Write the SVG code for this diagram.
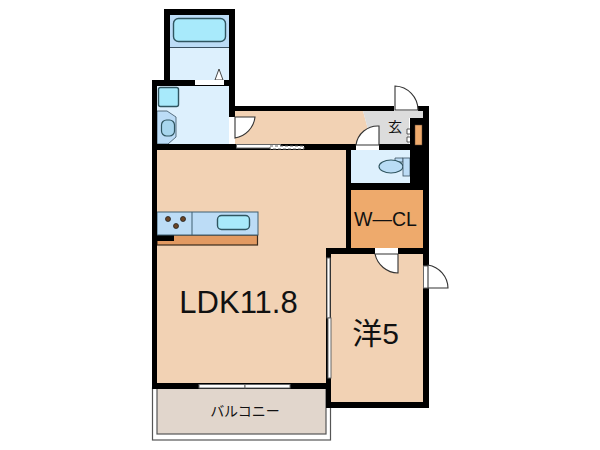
<svg xmlns="http://www.w3.org/2000/svg" width="600" height="450" viewBox="0 0 600 450">
<style>
.wall{fill:#000}
.floor{fill:#f2d2b4}
.wet{fill:#ddf0fd}
.mid{fill:#bcdcf6}
.aqua{fill:#a8eafb;stroke:#2f5560;stroke-width:1.4}
.closet{fill:#eeaa6c}
.gap{fill:#fff}
.door{fill:#fff;stroke:#333;stroke-width:1.1}
.sl{fill:#fff;stroke:#666;stroke-width:1}
.t{font-family:"Liberation Sans","Noto Sans CJK JP",sans-serif;fill:#111}
</style>
<rect width="600" height="450" fill="#fff"/>
<g id="balcony">
<rect x="152.500" y="388" width="178" height="52" fill="#fff" stroke="#555" stroke-width="1.200"/>
<rect x="157" y="388" width="169" height="46" fill="#e1d6cc" stroke="#555" stroke-width="1.200"/>
<text class="t" x="245" y="416" font-size="14" text-anchor="middle">バルコニー</text>
</g>
<g id="ldk">
<path class="floor" d="M157 150H346V254H326V383H157Z"/>
<text class="t" x="238.500" y="313" font-size="31" text-anchor="middle">LDK11.8</text>
</g>
<g id="kitchen">
<rect x="157" y="235" width="100.500" height="10" fill="#e29a62" stroke="#3a2a1c" stroke-width="1.200"/>
<rect x="157" y="235" width="17" height="6" class="wall"/>
<rect x="157" y="212" width="101" height="23" class="mid" stroke="#3f5f70" stroke-width="1"/>
<line x1="192" y1="212" x2="192" y2="235" stroke="#3f5f70" stroke-width="1"/>
<rect x="217.500" y="215.500" width="32" height="14" rx="4" class="aqua"/>
<g fill="#6b4425" stroke="#222" stroke-width="0.800"><circle cx="168" cy="219" r="2.500"/><circle cx="183" cy="219" r="2.500"/><circle cx="176" cy="226" r="2.500"/></g>
</g>
<g id="bedroom">
<rect x="331" y="254" width="92" height="148" class="floor"/>
<text class="t" x="375.500" y="344" font-size="30" text-anchor="middle">洋5</text>
</g>
<g id="closet">
<rect x="351" y="190" width="72" height="58" class="closet"/>
<text class="t" x="385.500" y="226" font-size="19.500" text-anchor="middle">W—CL</text>
</g>
<g id="corridor">
<path class="floor" d="M235 111H363L372 144H235Z"/>
</g>
<g id="entrance">
<path d="M363 111H423V118H409V144H372Z" fill="#dcdcdc"/>
<text class="t" x="395" y="132" font-size="14" text-anchor="middle">玄</text>
</g>
<g id="bathroom">
<rect x="170" y="15" width="59" height="65" class="wet"/>
<rect x="170" y="15" width="59" height="32" class="mid"/>
<line x1="170" y1="47.500" x2="229" y2="47.500" stroke="#3a5060" stroke-width="1"/>
<rect x="173.500" y="18.500" width="52" height="23" rx="5" class="aqua"/>
<path d="M215 80H223L219 69Z" fill="#fff" stroke="#333" stroke-width="0.900"/>
</g>
<g id="washroom">
<rect x="157" y="86" width="72" height="58" class="wet"/>
<rect x="158.500" y="87.500" width="20" height="19" rx="2" class="aqua" stroke-width="2"/>
<path d="M157 111H167L176 117V137L168 144H157Z" class="mid" stroke="#3a5060" stroke-width="0.800"/>
<rect x="161.500" y="120" width="13" height="16" rx="5" fill="#a8d6ee" stroke="#2f5560" stroke-width="1.200"/>
</g>
<g id="toilet">
<rect x="351" y="150" width="59" height="33" class="wet"/>
<path d="M403 158H395V162H403Z" class="mid" stroke="#3a5060" stroke-width="0.800"/>
<ellipse cx="391" cy="166.500" rx="12" ry="6.500" fill="#b9dcf5" stroke="#2f5560" stroke-width="1.100"/>
<rect x="403" y="158" width="7" height="18" class="mid" stroke="#3a5060" stroke-width="0.800"/>
</g>
<g id="walls">
<rect class="wall" x="164" y="9" width="6" height="77"/>
<rect class="wall" x="164" y="9" width="71" height="6"/>
<rect class="wall" x="229" y="9" width="6" height="141"/>
<rect class="wall" x="152" y="80" width="83" height="6"/>
<rect class="wall" x="152" y="80" width="5" height="309"/>
<rect class="wall" x="152" y="144" width="276" height="6"/>
<rect class="wall" x="235" y="106" width="194" height="5"/>
<rect class="wall" x="423" y="106" width="6" height="302"/>
<rect class="wall" x="410" y="118" width="13" height="72"/>
<rect class="wall" x="346" y="150" width="5" height="104"/>
<rect class="wall" x="351" y="183" width="72" height="7"/>
<rect class="wall" x="326" y="248" width="103" height="6"/>
<rect class="wall" x="326" y="248" width="5" height="160"/>
<rect class="wall" x="326" y="402" width="103" height="6"/>
<rect class="wall" x="152" y="383" width="179" height="6"/>
<rect x="415" y="125" width="7" height="20" class="closet" stroke="#5a4030" stroke-width="0.500"/>
<path d="M410 129L407 129V134H410M410 137L407 137V142H410" fill="#fff" stroke="#333" stroke-width="0.800"/>
</g>
<g id="connectors">
<rect class="gap" x="195" y="80" width="29" height="5"/>
<rect class="gap" x="229" y="117" width="6" height="27"/>
<path class="door" d="M235 117H255A24 24 0 0 1 235 138Z"/>
<rect class="gap" x="394" y="105" width="24" height="6"/>
<path class="door" d="M395 110V86A24 24 0 0 1 418 110Z"/>
<rect class="gap" x="356" y="144" width="23" height="6"/>
<path class="door" d="M356 145A22 22 0 0 1 379 126V145Z"/>
<rect class="gap" x="375" y="248" width="23" height="6"/>
<path class="door" d="M375 254H398V273A24 24 0 0 1 375 254Z"/>
<rect class="sl" x="423.500" y="266" width="5" height="22"/>
<path class="door" d="M428 265A24 24 0 0 1 448 288H428Z"/>
<rect class="sl" x="236.500" y="144.500" width="44" height="3.500"/>
<rect class="sl" x="270" y="146" width="34" height="3" stroke-dasharray="3 2"/>
<rect class="sl" x="199" y="384.500" width="46" height="3.500"/>
<rect class="sl" x="245" y="384.500" width="45" height="3.500"/>
<rect class="sl" x="327" y="258" width="3" height="60"/>
<rect class="sl" x="328" y="318" width="3" height="60"/>
</g>
</svg>
